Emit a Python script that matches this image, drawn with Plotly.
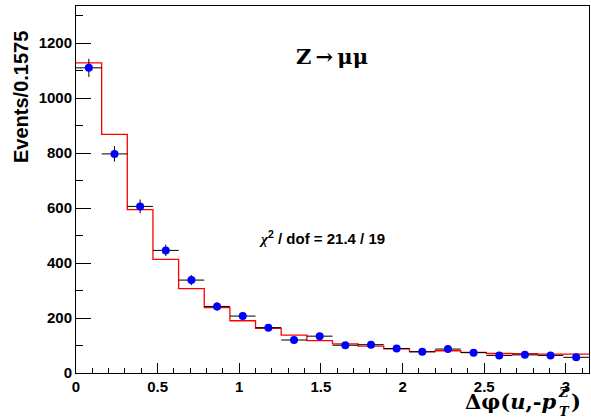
import numpy as np
import plotly.graph_objects as go

# ---- data ----
n_bins = 20
x_min, x_max = 0.0, np.pi
data_counts = [1110, 797, 606, 446, 338, 242, 207, 165, 120, 134,
               101, 103, 89, 77, 87, 74, 64, 66, 64, 57]
data_errors = [33, 28, 25, 21, 18, 16, 14, 13, 11, 12,
               10, 10, 9, 9, 9, 9, 8, 8, 8, 8]
model_counts = [1128, 868, 594, 413, 307, 238, 190, 162, 138, 118,
                106, 98, 88, 78, 81, 75, 71, 70, 69, 69]
y_tick_vals = [0, 200, 400, 600, 800, 1000, 1200]
x_tick_vals = [0, 0.5, 1, 1.5, 2, 2.5, 3]
x_tick_text = ["0", "0.5", "1", "1.5", "2", "2.5", "3"]

edges = np.linspace(x_min, x_max, n_bins + 1)
centers = 0.5 * (edges[:-1] + edges[1:])
half_w = 0.5 * (edges[1] - edges[0])

W, H = 591, 419
L, R, T, B = 76, 2, 6, 46
pw, ph = W - L - R, H - T - B

def px(x):
    return (x - L) / pw

def py(y):
    return (H - B - y) / ph

fig = go.Figure()

fig.add_trace(go.Scatter(
    x=list(edges), y=list(model_counts) + [model_counts[-1]],
    mode="lines", line=dict(color="red", width=1.3, shape="hv"),
    showlegend=False, hoverinfo="skip"))

fig.add_trace(go.Scatter(
    x=centers, y=data_counts, mode="markers",
    marker=dict(color="blue", size=8, line=dict(width=0)),
    error_y=dict(type="data", array=data_errors, color="black", thickness=1, width=0),
    error_x=dict(type="constant", value=half_w, color="black", thickness=1, width=0),
    showlegend=False))

axis_font = dict(family="Liberation Sans", size=15, color="black", weight="bold")

fig.update_xaxes(
    range=[x_min, x_max], showgrid=False, zeroline=False, automargin=False,
    showline=True, linecolor="black", linewidth=1, mirror=True,
    ticks="inside", ticklen=10, tickwidth=1, tickcolor="black",
    tickvals=x_tick_vals, ticktext=x_tick_text, tickfont=axis_font,
    minor=dict(ticks="inside", ticklen=5, dtick=0.1, tick0=0, tickcolor="black", showgrid=False),
)
fig.update_yaxes(
    range=[0, 1335], showgrid=False, zeroline=False, automargin=False,
    showline=True, linecolor="black", linewidth=1, mirror=True,
    ticks="inside", ticklen=15, tickwidth=1, tickcolor="black",
    tickvals=y_tick_vals, tickfont=axis_font,
    minor=dict(ticks="inside", ticklen=7, dtick=100, tick0=0, tickcolor="black", showgrid=False),
)

ann = []
# Y-axis title
ann.append(dict(text="Events/0.1575", x=px(21), y=py(29), xref="paper", yref="paper",
                xanchor="center", yanchor="top", textangle=-90, showarrow=False,
                font=dict(family="Liberation Sans", size=20, color="black", weight="bold")))
# Process label
ann.append(dict(text="Z\u2009\u2192\u2009\u03bc\u03bc",
                x=px(332), y=py(56), xref="paper", yref="paper",
                xanchor="center", yanchor="middle", showarrow=False,
                font=dict(family="DejaVu Serif", size=21, color="black", weight="bold")))
# chi2 label
ann.append(dict(text="<span style='font-family:Liberation Serif'><i>\u03c7</i></span><sup>2</sup> / dof = 21.4 / 19",
                x=px(257), y=py(237), xref="paper", yref="paper",
                xanchor="left", yanchor="middle", showarrow=False,
                font=dict(family="Liberation Sans", size=15, color="black", weight="bold")))
# X-axis title pieces
serif = dict(family="DejaVu Serif", color="black", weight="bold")
ann.append(dict(text="\u0394\u03c6(<i>u</i>,-<i>p</i>", x=px(559), y=py(401), xref="paper", yref="paper",
                xanchor="right", yanchor="middle", showarrow=False, font=dict(size=21, **serif)))
ann.append(dict(text="<i>T</i>", x=px(564), y=py(411), xref="paper", yref="paper",
                xanchor="center", yanchor="middle", showarrow=False, font=dict(size=13, **serif)))
ann.append(dict(text="<i>Z</i>", x=px(563), y=py(392), xref="paper", yref="paper",
                xanchor="center", yanchor="middle", showarrow=False, font=dict(size=13, **serif)))
ann.append(dict(text=")", x=px(569), y=py(401), xref="paper", yref="paper",
                xanchor="left", yanchor="middle", showarrow=False, font=dict(size=21, **serif)))

fig.update_layout(
    width=W, height=H, margin=dict(l=L, r=R, t=T, b=B, pad=0, autoexpand=False),
    paper_bgcolor="white", plot_bgcolor="white",
    annotations=ann, showlegend=False,
)

fig.write_html("out.html", config={"displayModeBar": False},
               post_script="document.body.style.margin='0';document.body.style.overflow='hidden';")
